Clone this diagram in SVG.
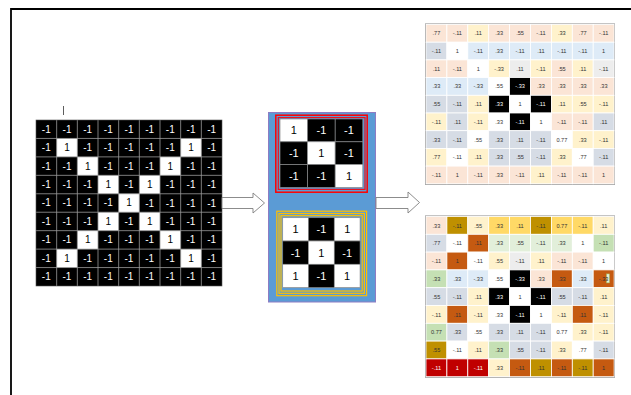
<svg xmlns="http://www.w3.org/2000/svg" width="631" height="395" viewBox="0 0 631 395">
<style>
text{font-family:"Liberation Sans",Arial,sans-serif;text-anchor:middle}
.lt{font-size:10px}
.lt .w{fill:#fff}.lt .b{fill:#000}
.mt{font-size:11px}
.st{font-size:5.6px;fill:#333}
.st .wt{fill:#fff}
.c rect{stroke:#fff;stroke-width:0.8}
.pe{fill:#fbe5d6}.ly{fill:#fff2cc}.lb{fill:#deebf7}.gb{fill:#d6dce5}.w{fill:#fff}.k{fill:#000}.lg{fill:#ededed}
.dg{fill:#bf9000}.gd{fill:#ffd966}.or{fill:#c55a11}.lgr{fill:#e2efda}.gr{fill:#c5e0b4}.rd{fill:#c00000}
.arrow{fill:#fff;stroke:#7f7f7f;stroke-width:0.9}
.mc rect{stroke:#8a8a8a;stroke-width:0.7}
</style>
<g id="frame">
<path d="M11,395 V9 H631" fill="none" stroke="#000" stroke-width="1.8"/>
<line x1="63.5" y1="106" x2="63.5" y2="115" stroke="#333" stroke-width="0.8"/>
</g>

<g id="input-grid">
<rect x="36" y="120" width="186" height="166" fill="#000"/>
<g fill="#fff">
<rect x="56.67" y="138.44" width="20.67" height="18.44"/><rect x="180.67" y="138.44" width="20.67" height="18.44"/>
<rect x="77.33" y="156.89" width="20.67" height="18.44"/><rect x="160" y="156.89" width="20.67" height="18.44"/>
<rect x="98" y="175.33" width="20.67" height="18.44"/><rect x="139.33" y="175.33" width="20.67" height="18.44"/>
<rect x="118.67" y="193.78" width="20.67" height="18.44"/>
<rect x="98" y="212.22" width="20.67" height="18.44"/><rect x="139.33" y="212.22" width="20.67" height="18.44"/>
<rect x="77.33" y="230.67" width="20.67" height="18.44"/><rect x="160" y="230.67" width="20.67" height="18.44"/>
<rect x="56.67" y="249.11" width="20.67" height="18.44"/><rect x="180.67" y="249.11" width="20.67" height="18.44"/>
</g>
<path d="M56.67,120V286M77.33,120V286M98,120V286M118.67,120V286M139.33,120V286M160,120V286M180.67,120V286M201.33,120V286M36,138.44H222M36,156.89H222M36,175.33H222M36,193.78H222M36,212.22H222M36,230.67H222M36,249.11H222M36,267.56H222" stroke="#9a9a9a" stroke-width="0.8" fill="none"/>
<rect x="36" y="120" width="186" height="166" fill="none" stroke="#555" stroke-width="0.6"/>
<g class="lt" transform="rotate(0.01 129 203)">
<text y="132.7"><tspan class="w" x="46.3">-1</tspan><tspan class="w" x="67">-1</tspan><tspan class="w" x="87.7">-1</tspan><tspan class="w" x="108.3">-1</tspan><tspan class="w" x="129">-1</tspan><tspan class="w" x="149.7">-1</tspan><tspan class="w" x="170.3">-1</tspan><tspan class="w" x="191">-1</tspan><tspan class="w" x="211.7">-1</tspan></text>
<text y="151.2"><tspan class="w" x="46.3">-1</tspan><tspan class="b" x="67">1</tspan><tspan class="w" x="87.7">-1</tspan><tspan class="w" x="108.3">-1</tspan><tspan class="w" x="129">-1</tspan><tspan class="w" x="149.7">-1</tspan><tspan class="w" x="170.3">-1</tspan><tspan class="b" x="191">1</tspan><tspan class="w" x="211.7">-1</tspan></text>
<text y="169.6"><tspan class="w" x="46.3">-1</tspan><tspan class="w" x="67">-1</tspan><tspan class="b" x="87.7">1</tspan><tspan class="w" x="108.3">-1</tspan><tspan class="w" x="129">-1</tspan><tspan class="w" x="149.7">-1</tspan><tspan class="b" x="170.3">1</tspan><tspan class="w" x="191">-1</tspan><tspan class="w" x="211.7">-1</tspan></text>
<text y="188"><tspan class="w" x="46.3">-1</tspan><tspan class="w" x="67">-1</tspan><tspan class="w" x="87.7">-1</tspan><tspan class="b" x="108.3">1</tspan><tspan class="w" x="129">-1</tspan><tspan class="b" x="149.7">1</tspan><tspan class="w" x="170.3">-1</tspan><tspan class="w" x="191">-1</tspan><tspan class="w" x="211.7">-1</tspan></text>
<text y="206.5"><tspan class="w" x="46.3">-1</tspan><tspan class="w" x="67">-1</tspan><tspan class="w" x="87.7">-1</tspan><tspan class="w" x="108.3">-1</tspan><tspan class="b" x="129">1</tspan><tspan class="w" x="149.7">-1</tspan><tspan class="w" x="170.3">-1</tspan><tspan class="w" x="191">-1</tspan><tspan class="w" x="211.7">-1</tspan></text>
<text y="224.9"><tspan class="w" x="46.3">-1</tspan><tspan class="w" x="67">-1</tspan><tspan class="w" x="87.7">-1</tspan><tspan class="b" x="108.3">1</tspan><tspan class="w" x="129">-1</tspan><tspan class="b" x="149.7">1</tspan><tspan class="w" x="170.3">-1</tspan><tspan class="w" x="191">-1</tspan><tspan class="w" x="211.7">-1</tspan></text>
<text y="243.4"><tspan class="w" x="46.3">-1</tspan><tspan class="w" x="67">-1</tspan><tspan class="b" x="87.7">1</tspan><tspan class="w" x="108.3">-1</tspan><tspan class="w" x="129">-1</tspan><tspan class="w" x="149.7">-1</tspan><tspan class="b" x="170.3">1</tspan><tspan class="w" x="191">-1</tspan><tspan class="w" x="211.7">-1</tspan></text>
<text y="261.8"><tspan class="w" x="46.3">-1</tspan><tspan class="b" x="67">1</tspan><tspan class="w" x="87.7">-1</tspan><tspan class="w" x="108.3">-1</tspan><tspan class="w" x="129">-1</tspan><tspan class="w" x="149.7">-1</tspan><tspan class="w" x="170.3">-1</tspan><tspan class="b" x="191">1</tspan><tspan class="w" x="211.7">-1</tspan></text>
<text y="280.3"><tspan class="w" x="46.3">-1</tspan><tspan class="w" x="67">-1</tspan><tspan class="w" x="87.7">-1</tspan><tspan class="w" x="108.3">-1</tspan><tspan class="w" x="129">-1</tspan><tspan class="w" x="149.7">-1</tspan><tspan class="w" x="170.3">-1</tspan><tspan class="w" x="191">-1</tspan><tspan class="w" x="211.7">-1</tspan></text>
</g>
</g>

<g id="filter-box">
<rect x="268.5" y="112.5" width="107" height="189.5" fill="#5b9bd5" stroke="#8e7cc3" stroke-width="1"/>
</g>

<g id="filter-red">
<g class="mc">
<rect class="w" x="280" y="119" width="27.6" height="22.8"/><rect class="k" x="307.6" y="119" width="27.6" height="22.8"/><rect class="k" x="335.2" y="119" width="27.6" height="22.8"/>
<rect class="k" x="280" y="141.8" width="27.6" height="22.8"/><rect class="w" x="307.6" y="141.8" width="27.6" height="22.8"/><rect class="k" x="335.2" y="141.8" width="27.6" height="22.8"/>
<rect class="k" x="280" y="164.6" width="27.6" height="22.8"/><rect class="k" x="307.6" y="164.6" width="27.6" height="22.8"/><rect class="w" x="335.2" y="164.6" width="27.6" height="22.8"/>
</g>
<rect x="275.8" y="115.2" width="91.4" height="77" fill="none" stroke="#ff0000" stroke-width="1.5"/>
<rect x="278.3" y="117.6" width="86.7" height="71.8" fill="none" stroke="#e8131f" stroke-width="1.2"/>
<g class="mt" transform="rotate(0.01 321 157)">
<text x="293.8" y="134.4" fill="#000">1</text><text x="321.4" y="134.4" fill="#fff">-1</text><text x="349" y="134.4" fill="#fff">-1</text>
<text x="293.8" y="157.2" fill="#fff">-1</text><text x="321.4" y="157.2" fill="#000">1</text><text x="349" y="157.2" fill="#fff">-1</text>
<text x="293.8" y="180" fill="#fff">-1</text><text x="321.4" y="180" fill="#fff">-1</text><text x="349" y="180" fill="#000">1</text>
</g>
</g>

<g id="filter-yellow">
<g class="mc">
<rect class="w" x="282.7" y="217.7" width="25.8" height="23.3"/><rect class="k" x="308.5" y="217.7" width="25.8" height="23.3"/><rect class="w" x="334.3" y="217.7" width="25.8" height="23.3"/>
<rect class="k" x="282.7" y="241" width="25.8" height="23.3"/><rect class="w" x="308.5" y="241" width="25.8" height="23.3"/><rect class="k" x="334.3" y="241" width="25.8" height="23.3"/>
<rect class="w" x="282.7" y="264.3" width="25.8" height="23.3"/><rect class="k" x="308.5" y="264.3" width="25.8" height="23.3"/><rect class="w" x="334.3" y="264.3" width="25.8" height="23.3"/>
</g>
<g fill="none" stroke="#ffc000" stroke-width="1.2">
<rect x="276.8" y="211.2" width="89.8" height="84.5"/>
<rect x="279" y="213.5" width="85.4" height="79.8"/>
<rect x="281" y="215.7" width="81.2" height="75.3"/>
</g>
<g class="mt" transform="rotate(0.01 321 256)">
<text x="295.6" y="233.3" fill="#000">1</text><text x="321.4" y="233.3" fill="#fff">-1</text><text x="347.2" y="233.3" fill="#000">1</text>
<text x="295.6" y="256.6" fill="#fff">-1</text><text x="321.4" y="256.6" fill="#000">1</text><text x="347.2" y="256.6" fill="#fff">-1</text>
<text x="295.6" y="279.9" fill="#000">1</text><text x="321.4" y="279.9" fill="#fff">-1</text><text x="347.2" y="279.9" fill="#000">1</text>
</g>
</g>

<g id="map-top">
<rect x="425.5" y="24" width="189" height="160.3" fill="#fff" stroke="#8a8a8a" stroke-width="1"/>
<g transform="translate(426,24.5)">
<g class="c"><rect class="pe" x="0" width="20.9" height="17.7"/><rect class="pe" x="20.9" width="20.9" height="17.7"/><rect class="ly" x="41.8" width="20.9" height="17.7"/><rect class="pe" x="62.7" width="20.9" height="17.7"/><rect class="pe" x="83.6" width="20.9" height="17.7"/><rect class="pe" x="104.5" width="20.9" height="17.7"/><rect class="ly" x="125.4" width="20.9" height="17.7"/><rect class="pe" x="146.3" width="20.9" height="17.7"/><rect class="pe" x="167.2" width="20.9" height="17.7"/></g>
<text class="st" y="10.9"><tspan x="10.45">.77</tspan><tspan x="31.35">-.11</tspan><tspan x="52.25">.11</tspan><tspan x="73.15">.33</tspan><tspan x="94.05">.55</tspan><tspan x="114.95">-.11</tspan><tspan x="135.85">.33</tspan><tspan x="156.75">.77</tspan><tspan x="177.65">-.11</tspan></text>
</g>
<g transform="translate(426,42.2)">
<g class="c"><rect class="gb" x="0" width="20.9" height="17.7"/><rect class="w" x="20.9" width="20.9" height="17.7"/><rect class="lb" x="41.8" width="20.9" height="17.7"/><rect class="lb" x="62.7" width="20.9" height="17.7"/><rect class="lb" x="83.6" width="20.9" height="17.7"/><rect class="lb" x="104.5" width="20.9" height="17.7"/><rect class="lb" x="125.4" width="20.9" height="17.7"/><rect class="lb" x="146.3" width="20.9" height="17.7"/><rect class="lb" x="167.2" width="20.9" height="17.7"/></g>
<text class="st" y="10.9"><tspan x="10.45">-.11</tspan><tspan x="31.35">1</tspan><tspan x="52.25">-.11</tspan><tspan x="73.15">.33</tspan><tspan x="94.05">-.11</tspan><tspan x="114.95">.11</tspan><tspan x="135.85">-.11</tspan><tspan x="156.75">-.11</tspan><tspan x="177.65">1</tspan></text>
</g>
<g transform="translate(426,59.9)">
<g class="c"><rect class="pe" x="0" width="20.9" height="17.7"/><rect class="pe" x="20.9" width="20.9" height="17.7"/><rect class="w" x="41.8" width="20.9" height="17.7"/><rect class="ly" x="62.7" width="20.9" height="17.7"/><rect class="lg" x="83.6" width="20.9" height="17.7"/><rect class="ly" x="104.5" width="20.9" height="17.7"/><rect class="pe" x="125.4" width="20.9" height="17.7"/><rect class="ly" x="146.3" width="20.9" height="17.7"/><rect class="lg" x="167.2" width="20.9" height="17.7"/></g>
<text class="st" y="10.9"><tspan x="10.45">.11</tspan><tspan x="31.35">-.11</tspan><tspan x="52.25">1</tspan><tspan x="73.15">-.33</tspan><tspan x="94.05">.11</tspan><tspan x="114.95">-.11</tspan><tspan x="135.85">.55</tspan><tspan x="156.75">.11</tspan><tspan x="177.65">-.11</tspan></text>
</g>
<g transform="translate(426,77.6)">
<g class="c"><rect class="lb" x="0" width="20.9" height="17.7"/><rect class="lb" x="20.9" width="20.9" height="17.7"/><rect class="lb" x="41.8" width="20.9" height="17.7"/><rect class="w" x="62.7" width="20.9" height="17.7"/><rect class="k" x="83.6" width="20.9" height="17.7"/><rect class="pe" x="104.5" width="20.9" height="17.7"/><rect class="pe" x="125.4" width="20.9" height="17.7"/><rect class="pe" x="146.3" width="20.9" height="17.7"/><rect class="pe" x="167.2" width="20.9" height="17.7"/></g>
<text class="st" y="10.9"><tspan x="10.45">.33</tspan><tspan x="31.35">.33</tspan><tspan x="52.25">-.33</tspan><tspan x="73.15">.55</tspan><tspan class="wt" x="94.05">-.33</tspan><tspan x="114.95">.33</tspan><tspan x="135.85">.33</tspan><tspan x="156.75">.33</tspan><tspan x="177.65">.33</tspan></text>
</g>
<g transform="translate(426,95.3)">
<g class="c"><rect class="gb" x="0" width="20.9" height="17.7"/><rect class="gb" x="20.9" width="20.9" height="17.7"/><rect class="ly" x="41.8" width="20.9" height="17.7"/><rect class="k" x="62.7" width="20.9" height="17.7"/><rect class="w" x="83.6" width="20.9" height="17.7"/><rect class="k" x="104.5" width="20.9" height="17.7"/><rect class="ly" x="125.4" width="20.9" height="17.7"/><rect class="ly" x="146.3" width="20.9" height="17.7"/><rect class="ly" x="167.2" width="20.9" height="17.7"/></g>
<text class="st" y="10.9"><tspan x="10.45">.55</tspan><tspan x="31.35">-.11</tspan><tspan x="52.25">.11</tspan><tspan class="wt" x="73.15">.33</tspan><tspan x="94.05">1</tspan><tspan class="wt" x="114.95">-.11</tspan><tspan x="135.85">.11</tspan><tspan x="156.75">.55</tspan><tspan x="177.65">-.11</tspan></text>
</g>
<g transform="translate(426,113)">
<g class="c"><rect class="ly" x="0" width="20.9" height="17.7"/><rect class="gb" x="20.9" width="20.9" height="17.7"/><rect class="ly" x="41.8" width="20.9" height="17.7"/><rect class="w" x="62.7" width="20.9" height="17.7"/><rect class="k" x="83.6" width="20.9" height="17.7"/><rect class="w" x="104.5" width="20.9" height="17.7"/><rect class="pe" x="125.4" width="20.9" height="17.7"/><rect class="pe" x="146.3" width="20.9" height="17.7"/><rect class="gb" x="167.2" width="20.9" height="17.7"/></g>
<text class="st" y="10.9"><tspan x="10.45">-.11</tspan><tspan x="31.35">.11</tspan><tspan x="52.25">-.11</tspan><tspan x="73.15">.33</tspan><tspan class="wt" x="94.05">-.11</tspan><tspan x="114.95">1</tspan><tspan x="135.85">-.11</tspan><tspan x="156.75">-.11</tspan><tspan x="177.65">.11</tspan></text>
</g>
<g transform="translate(426,130.7)">
<g class="c"><rect class="gb" x="0" width="20.9" height="17.7"/><rect class="gb" x="20.9" width="20.9" height="17.7"/><rect class="w" x="41.8" width="20.9" height="17.7"/><rect class="gb" x="62.7" width="20.9" height="17.7"/><rect class="gb" x="83.6" width="20.9" height="17.7"/><rect class="gb" x="104.5" width="20.9" height="17.7"/><rect class="w" x="125.4" width="20.9" height="17.7"/><rect class="ly" x="146.3" width="20.9" height="17.7"/><rect class="ly" x="167.2" width="20.9" height="17.7"/></g>
<text class="st" y="10.9"><tspan x="10.45">.33</tspan><tspan x="31.35">-.11</tspan><tspan x="52.25">.55</tspan><tspan x="73.15">.33</tspan><tspan x="94.05">.11</tspan><tspan x="114.95">-.11</tspan><tspan x="135.85">0.77</tspan><tspan x="156.75">.33</tspan><tspan x="177.65">-.11</tspan></text>
</g>
<g transform="translate(426,148.4)">
<g class="c"><rect class="ly" x="0" width="20.9" height="17.7"/><rect class="w" x="20.9" width="20.9" height="17.7"/><rect class="ly" x="41.8" width="20.9" height="17.7"/><rect class="gb" x="62.7" width="20.9" height="17.7"/><rect class="gb" x="83.6" width="20.9" height="17.7"/><rect class="gb" x="104.5" width="20.9" height="17.7"/><rect class="ly" x="125.4" width="20.9" height="17.7"/><rect class="w" x="146.3" width="20.9" height="17.7"/><rect class="gb" x="167.2" width="20.9" height="17.7"/></g>
<text class="st" y="10.9"><tspan x="10.45">.77</tspan><tspan x="31.35">-.11</tspan><tspan x="52.25">.11</tspan><tspan x="73.15">.33</tspan><tspan x="94.05">.55</tspan><tspan x="114.95">-.11</tspan><tspan x="135.85">.33</tspan><tspan x="156.75">.77</tspan><tspan x="177.65">-.11</tspan></text>
</g>
<g transform="translate(426,166.1)">
<g class="c"><rect class="pe" x="0" width="20.9" height="17.7"/><rect class="pe" x="20.9" width="20.9" height="17.7"/><rect class="pe" x="41.8" width="20.9" height="17.7"/><rect class="pe" x="62.7" width="20.9" height="17.7"/><rect class="pe" x="83.6" width="20.9" height="17.7"/><rect class="ly" x="104.5" width="20.9" height="17.7"/><rect class="pe" x="125.4" width="20.9" height="17.7"/><rect class="pe" x="146.3" width="20.9" height="17.7"/><rect class="pe" x="167.2" width="20.9" height="17.7"/></g>
<text class="st" y="10.9"><tspan x="10.45">-.11</tspan><tspan x="31.35">1</tspan><tspan x="52.25">-.11</tspan><tspan x="73.15">.33</tspan><tspan x="94.05">-.11</tspan><tspan x="114.95">.11</tspan><tspan x="135.85">-.11</tspan><tspan x="156.75">-.11</tspan><tspan x="177.65">1</tspan></text>
</g>
</g>

<g id="map-bottom">
<rect x="425.5" y="216" width="189" height="161.2" fill="#fff" stroke="#8a8a8a" stroke-width="1"/>
<g transform="translate(426,216.5)">
<g class="c"><rect class="pe" x="0" width="20.9" height="17.8"/><rect class="dg" x="20.9" width="20.9" height="17.8"/><rect class="ly" x="41.8" width="20.9" height="17.8"/><rect class="gd" x="62.7" width="20.9" height="17.8"/><rect class="gd" x="83.6" width="20.9" height="17.8"/><rect class="dg" x="104.5" width="20.9" height="17.8"/><rect class="gd" x="125.4" width="20.9" height="17.8"/><rect class="gd" x="146.3" width="20.9" height="17.8"/><rect class="ly" x="167.2" width="20.9" height="17.8"/></g>
<text class="st" y="11"><tspan x="10.45">.33</tspan><tspan x="31.35">-.11</tspan><tspan x="52.25">.55</tspan><tspan x="73.15">.33</tspan><tspan x="94.05">.11</tspan><tspan x="114.95">-.11</tspan><tspan x="135.85">0.77</tspan><tspan x="156.75">-.11</tspan><tspan x="177.65">.11</tspan></text>
</g>
<g transform="translate(426,234.3)">
<g class="c"><rect class="gb" x="0" width="20.9" height="17.8"/><rect class="w" x="20.9" width="20.9" height="17.8"/><rect class="or" x="41.8" width="20.9" height="17.8"/><rect class="lgr" x="62.7" width="20.9" height="17.8"/><rect class="lgr" x="83.6" width="20.9" height="17.8"/><rect class="lgr" x="104.5" width="20.9" height="17.8"/><rect class="lgr" x="125.4" width="20.9" height="17.8"/><rect class="w" x="146.3" width="20.9" height="17.8"/><rect class="gr" x="167.2" width="20.9" height="17.8"/></g>
<text class="st" y="11"><tspan x="10.45">.77</tspan><tspan x="31.35">-.11</tspan><tspan x="52.25">.11</tspan><tspan x="73.15">.33</tspan><tspan x="94.05">.55</tspan><tspan x="114.95">-.11</tspan><tspan x="135.85">.33</tspan><tspan x="156.75">1</tspan><tspan x="177.65">-.11</tspan></text>
</g>
<g transform="translate(426,252.1)">
<g class="c"><rect class="pe" x="0" width="20.9" height="17.8"/><rect class="or" x="20.9" width="20.9" height="17.8"/><rect class="w" x="41.8" width="20.9" height="17.8"/><rect class="ly" x="62.7" width="20.9" height="17.8"/><rect class="lg" x="83.6" width="20.9" height="17.8"/><rect class="ly" x="104.5" width="20.9" height="17.8"/><rect class="pe" x="125.4" width="20.9" height="17.8"/><rect class="pe" x="146.3" width="20.9" height="17.8"/><rect class="w" x="167.2" width="20.9" height="17.8"/></g>
<text class="st" y="11"><tspan x="10.45">-.11</tspan><tspan x="31.35">1</tspan><tspan x="52.25">-.11</tspan><tspan x="73.15">.55</tspan><tspan x="94.05">-.11</tspan><tspan x="114.95">.11</tspan><tspan x="135.85">-.11</tspan><tspan x="156.75">-.11</tspan><tspan x="177.65">1</tspan></text>
</g>
<g transform="translate(426,269.9)">
<g class="c"><rect class="gr" x="0" width="20.9" height="17.8"/><rect class="lb" x="20.9" width="20.9" height="17.8"/><rect class="lb" x="41.8" width="20.9" height="17.8"/><rect class="w" x="62.7" width="20.9" height="17.8"/><rect class="k" x="83.6" width="20.9" height="17.8"/><rect class="pe" x="104.5" width="20.9" height="17.8"/><rect class="or" x="125.4" width="20.9" height="17.8"/><rect class="lb" x="146.3" width="20.9" height="17.8"/><rect class="or" x="167.2" width="20.9" height="17.8"/></g>
<rect x="180.5" y="4" width="3" height="9" fill="#e2efda" stroke="#9bbb59" stroke-width="0.5"/>
<text class="st" y="11"><tspan x="10.45">.33</tspan><tspan x="31.35">.33</tspan><tspan x="52.25">-.33</tspan><tspan x="73.15">.55</tspan><tspan class="wt" x="94.05">-.33</tspan><tspan x="114.95">.33</tspan><tspan x="135.85">.33</tspan><tspan x="156.75">.33</tspan><tspan x="177.65">-.33</tspan></text>
</g>
<g transform="translate(426,287.7)">
<g class="c"><rect class="gb" x="0" width="20.9" height="17.8"/><rect class="gb" x="20.9" width="20.9" height="17.8"/><rect class="ly" x="41.8" width="20.9" height="17.8"/><rect class="k" x="62.7" width="20.9" height="17.8"/><rect class="w" x="83.6" width="20.9" height="17.8"/><rect class="k" x="104.5" width="20.9" height="17.8"/><rect class="gb" x="125.4" width="20.9" height="17.8"/><rect class="gb" x="146.3" width="20.9" height="17.8"/><rect class="ly" x="167.2" width="20.9" height="17.8"/></g>
<text class="st" y="11"><tspan x="10.45">.55</tspan><tspan x="31.35">-.11</tspan><tspan x="52.25">.11</tspan><tspan class="wt" x="73.15">.33</tspan><tspan x="94.05">1</tspan><tspan class="wt" x="114.95">-.11</tspan><tspan x="135.85">.55</tspan><tspan x="156.75">-.11</tspan><tspan x="177.65">.11</tspan></text>
</g>
<g transform="translate(426,305.5)">
<g class="c"><rect class="ly" x="0" width="20.9" height="17.8"/><rect class="or" x="20.9" width="20.9" height="17.8"/><rect class="ly" x="41.8" width="20.9" height="17.8"/><rect class="w" x="62.7" width="20.9" height="17.8"/><rect class="k" x="83.6" width="20.9" height="17.8"/><rect class="w" x="104.5" width="20.9" height="17.8"/><rect class="ly" x="125.4" width="20.9" height="17.8"/><rect class="or" x="146.3" width="20.9" height="17.8"/><rect class="ly" x="167.2" width="20.9" height="17.8"/></g>
<text class="st" y="11"><tspan x="10.45">-.11</tspan><tspan x="31.35">.11</tspan><tspan x="52.25">-.11</tspan><tspan x="73.15">.33</tspan><tspan class="wt" x="94.05">-.11</tspan><tspan x="114.95">1</tspan><tspan x="135.85">-.11</tspan><tspan x="156.75">.11</tspan><tspan x="177.65">-.11</tspan></text>
</g>
<g transform="translate(426,323.3)">
<g class="c"><rect class="gr" x="0" width="20.9" height="17.8"/><rect class="gb" x="20.9" width="20.9" height="17.8"/><rect class="w" x="41.8" width="20.9" height="17.8"/><rect class="gb" x="62.7" width="20.9" height="17.8"/><rect class="gb" x="83.6" width="20.9" height="17.8"/><rect class="gb" x="104.5" width="20.9" height="17.8"/><rect class="w" x="125.4" width="20.9" height="17.8"/><rect class="ly" x="146.3" width="20.9" height="17.8"/><rect class="ly" x="167.2" width="20.9" height="17.8"/></g>
<text class="st" y="11"><tspan x="10.45">0.77</tspan><tspan x="31.35">.33</tspan><tspan x="52.25">.55</tspan><tspan x="73.15">.33</tspan><tspan x="94.05">.11</tspan><tspan x="114.95">-.11</tspan><tspan x="135.85">0.77</tspan><tspan x="156.75">.33</tspan><tspan x="177.65">-.11</tspan></text>
</g>
<g transform="translate(426,341.1)">
<g class="c"><rect class="dg" x="0" width="20.9" height="17.8"/><rect class="w" x="20.9" width="20.9" height="17.8"/><rect class="ly" x="41.8" width="20.9" height="17.8"/><rect class="gr" x="62.7" width="20.9" height="17.8"/><rect class="gb" x="83.6" width="20.9" height="17.8"/><rect class="gb" x="104.5" width="20.9" height="17.8"/><rect class="ly" x="125.4" width="20.9" height="17.8"/><rect class="w" x="146.3" width="20.9" height="17.8"/><rect class="gb" x="167.2" width="20.9" height="17.8"/></g>
<text class="st" y="11"><tspan x="10.45">.55</tspan><tspan x="31.35">-.11</tspan><tspan x="52.25">.11</tspan><tspan x="73.15">.33</tspan><tspan x="94.05">.55</tspan><tspan x="114.95">-.11</tspan><tspan x="135.85">.33</tspan><tspan x="156.75">.77</tspan><tspan x="177.65">-.11</tspan></text>
</g>
<g transform="translate(426,358.9)">
<g class="c"><rect class="rd" x="0" width="20.9" height="17.8"/><rect class="rd" x="20.9" width="20.9" height="17.8"/><rect class="rd" x="41.8" width="20.9" height="17.8"/><rect class="ly" x="62.7" width="20.9" height="17.8"/><rect class="or" x="83.6" width="20.9" height="17.8"/><rect class="dg" x="104.5" width="20.9" height="17.8"/><rect class="or" x="125.4" width="20.9" height="17.8"/><rect class="dg" x="146.3" width="20.9" height="17.8"/><rect class="or" x="167.2" width="20.9" height="17.8"/></g>
<text class="st" y="11"><tspan class="wt" x="10.45">-.11</tspan><tspan class="wt" x="31.35">1</tspan><tspan class="wt" x="52.25">-.11</tspan><tspan x="73.15">.33</tspan><tspan x="94.05">-.11</tspan><tspan x="114.95">.11</tspan><tspan x="135.85">-.11</tspan><tspan x="156.75">-.11</tspan><tspan x="177.65">1</tspan></text>
</g>
</g>

<g id="connectors">
<polygon class="arrow" points="222,197.5 253,197.5 253,193 264.5,203 253,213 253,208.5 222,208.5"/>
<polygon class="arrow" points="376,197.5 408,197.5 408,192 419.5,202.5 408,213 408,208.5 376,208.5"/>
</g>
</svg>
